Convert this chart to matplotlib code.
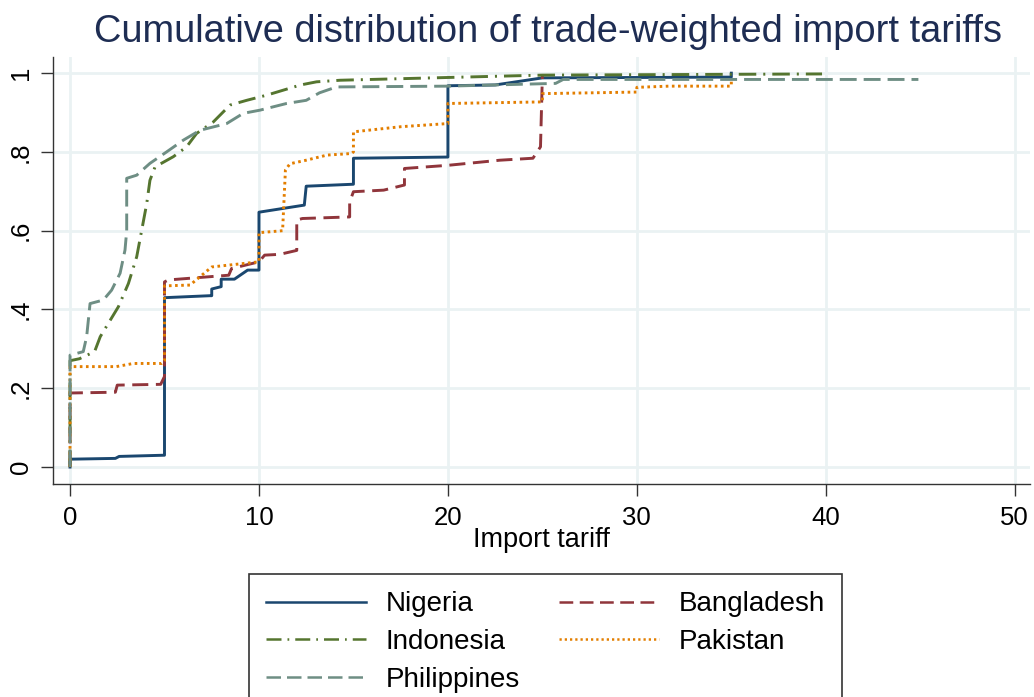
import matplotlib
matplotlib.use("Agg")
import matplotlib.pyplot as plt

plt.rcParams["font.family"] = ["Liberation Sans", "DejaVu Sans"]

# ─── Data ────────────────────────────────────────────────────────────────────

nigeria_x = [0, 0, 2.4, 2.6, 4.95, 5, 5, 7.4, 7.5, 7.5, 8, 8, 8.7, 9.4, 10, 10,
             12.4, 12.5, 15, 15, 20, 20, 22.5, 25, 35, 35]
nigeria_y = [0, 0.02, 0.022, 0.027, 0.03, 0.03, 0.43, 0.435, 0.435, 0.452, 0.458,
             0.477, 0.477, 0.50, 0.50, 0.647, 0.665, 0.713, 0.718, 0.784, 0.787,
             0.968, 0.97, 0.988, 0.99, 1.0]

bangladesh_x = [0, 0, 2.4, 2.5, 4.8, 5, 5, 5.2, 8.4, 8.55, 10, 10.3, 11.1, 12, 12,
                12.3, 14.8, 14.8, 15, 16.6, 17.7, 17.7, 20, 22.75, 24.5, 24.9, 25]
bangladesh_y = [0, 0.188, 0.19, 0.208, 0.21, 0.23, 0.47, 0.475, 0.487, 0.504, 0.521,
                0.538, 0.54, 0.55, 0.627, 0.631, 0.635, 0.673, 0.699, 0.703, 0.716,
                0.758, 0.766, 0.779, 0.784, 0.813, 0.995]

indonesia_x = [0, 0, 0.5, 1.3, 1.6, 2.56, 3.09, 3.53, 4.06, 4.23, 4.5, 5.47, 6.17,
               6.7, 7.58, 8.47, 9.35, 10.4, 12.2, 13.05, 14.3, 20, 25, 39.8]
indonesia_y = [0, 0.27, 0.275, 0.293, 0.331, 0.407, 0.466, 0.534, 0.669, 0.728,
               0.762, 0.788, 0.813, 0.847, 0.876, 0.919, 0.931, 0.944, 0.970, 0.978,
               0.982, 0.989, 0.995, 0.998]

pakistan_x = [0, 0, 2.45, 3.35, 4.85, 5, 5, 6.35, 7.5, 10, 10, 11.25, 11.4, 11.64,
              12.5, 13.6, 14.9, 15, 15, 17.5, 20, 20, 25, 25, 30, 30, 31.7, 35, 35]
pakistan_y = [0, 0.255, 0.255, 0.263, 0.263, 0.27, 0.46, 0.462, 0.508, 0.521, 0.595,
              0.60, 0.754, 0.77, 0.779, 0.792, 0.796, 0.80, 0.851, 0.864, 0.872,
              0.923, 0.927, 0.948, 0.952, 0.964, 0.967, 0.967, 0.982]

philippines_x = [0, 0, 0.7, 0.88, 1.06, 1.76, 2.2, 2.65, 2.91, 3.0, 3.0, 3.53, 4.23,
                 5.11, 6.0, 6.88, 8.29, 9.17, 10.05, 11.46, 12.5, 13.2, 14.1, 20,
                 25.7, 26.1, 44.9]
philippines_y = [0, 0.284, 0.293, 0.331, 0.415, 0.424, 0.449, 0.492, 0.551, 0.60,
                 0.733, 0.741, 0.771, 0.80, 0.83, 0.855, 0.872, 0.898, 0.906, 0.923,
                 0.931, 0.95, 0.965, 0.967, 0.974, 0.984, 0.984]

x_ticks = [0, 10, 20, 30, 40, 50]
y_ticks = [0, 0.2, 0.4, 0.6, 0.8, 1.0]
y_labels = ["0", ".2", ".4", ".6", ".8", "1"]

# ─── Figure ──────────────────────────────────────────────────────────────────

fig = plt.figure(figsize=(10.34, 6.97), dpi=100)
ax = fig.add_axes([0.051, 0.3056, 0.945, 0.6124])

lw = 2.1
series = [
    ("Nigeria",     nigeria_x,     nigeria_y,     "#1a476f", None),
    ("Bangladesh",  bangladesh_x,  bangladesh_y,  "#90353b", (5.5, 2.6)),
    ("Indonesia",   indonesia_x,   indonesia_y,   "#55752f", (6.0, 2.4, 0.7, 2.4)),
    ("Pakistan",    pakistan_x,    pakistan_y,    "#e37e00", (0.9, 1.2)),
    ("Philippines", philippines_x, philippines_y, "#6e8e84", (5.8, 2.4)),
]

lines = {}
for name, xs, ys, color, dashes in series:
    ln, = ax.plot(xs, ys, color=color, lw=lw, label=name)
    if dashes is not None:
        ln.set_dashes(dashes)
    lines[name] = ln

ax.set_xlim(-0.915, 50.8)
ax.set_ylim(-0.043, 1.0406)
ax.set_xticks(x_ticks)
ax.set_yticks(y_ticks)
ax.set_yticklabels(y_labels, rotation=90, va="center")
ax.tick_params(axis="both", labelsize=18.5, length=8.5, width=1.0, color="#333333")
ax.tick_params(axis="x", pad=7)
ax.tick_params(axis="y", pad=6)

ax.grid(True, color="#eaf2f3", lw=2.0)
ax.set_axisbelow(True)
for side in ("top", "right"):
    ax.spines[side].set_visible(False)
for side in ("left", "bottom"):
    ax.spines[side].set_linewidth(1.0)
    ax.spines[side].set_color("#333333")

ax.set_xlabel("Import tariff", fontsize=19.5, labelpad=-2)

fig.text(0.53, 0.94, "Cumulative distribution of trade-weighted import tariffs",
         ha="center", va="baseline", fontsize=27.4, color="#1e2d53")

order = ["Nigeria", "Indonesia", "Philippines", "Bangladesh", "Pakistan"]
leg = fig.legend([lines[n] for n in order], order, ncol=2,
                 loc="upper left", bbox_to_anchor=(249 / 1034, 1 - 574 / 697),
                 fontsize=20, frameon=True, fancybox=False, edgecolor="black",
                 handlelength=3.6, handletextpad=0.7, columnspacing=1.4,
                 labelspacing=0.42, borderpad=0.62, borderaxespad=0)
leg.get_frame().set_linewidth(1.2)
for h in leg.get_lines():
    h.set_linewidth(1.8)

fig.savefig("out.png", dpi=100)
